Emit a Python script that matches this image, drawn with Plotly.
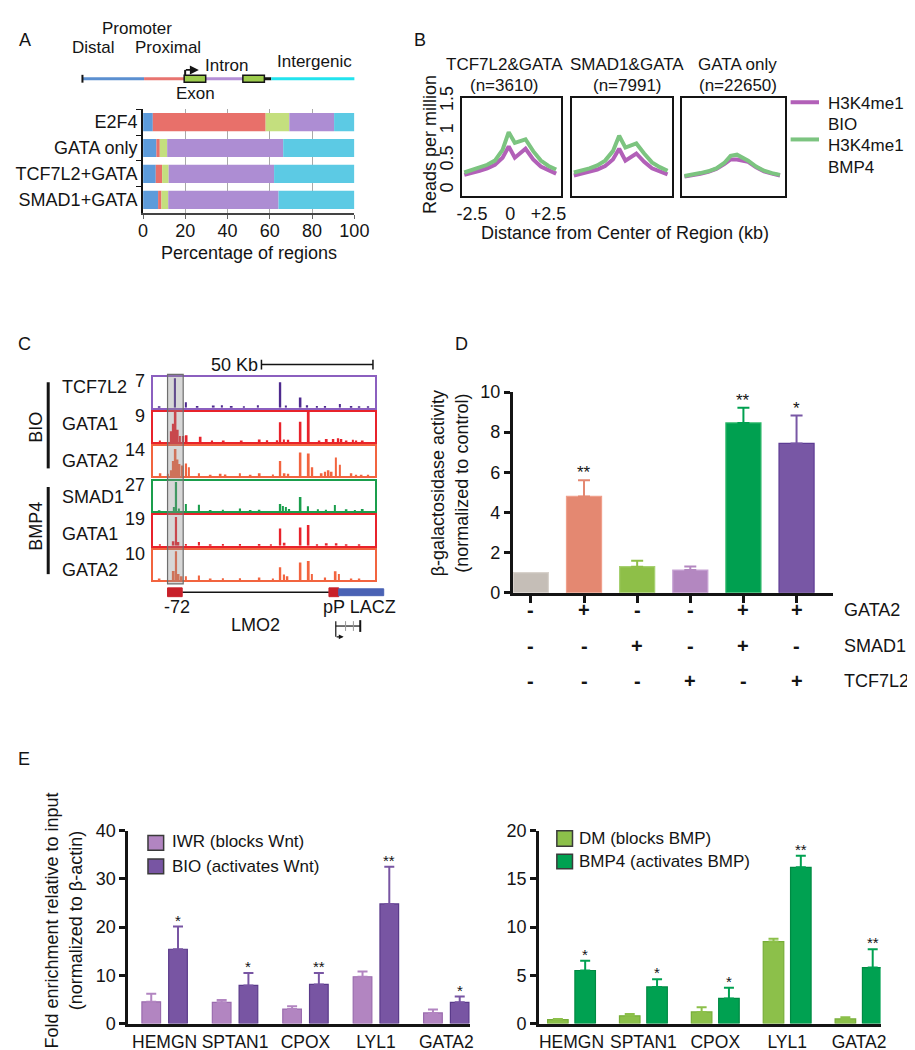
import plotly.graph_objects as go
import numpy as np

W, H = 915, 1050
FONT = "Arial, Liberation Sans, sans-serif"
INK = "#141414"


def X(p):
    return p / W


def Y(p):
    return 1 - p / H


# ================= DATA =================
# Panel A: percentage of regions per genomic category
a_rows = ["E2F4", "GATA only", "TCF7L2+GATA", "SMAD1+GATA"]
a_segments = ["Distal", "Proximal", "Exon", "Intron", "Intergenic"]
a_distal = [4.6, 6.3, 6.0, 7.1]
a_proximal = [53.4, 1.6, 3.0, 1.6]
a_exon = [11.2, 3.5, 3.1, 3.2]
a_intron = [21.2, 54.9, 49.9, 52.2]
a_intergenic = [9.6, 33.7, 38.0, 35.9]
a_ticks = [0, 20, 40, 60, 80, 100]

# Panel B: H3K4me1 profiles (reads per million vs distance, kb)
b_titles = ["TCF7L2&GATA", "SMAD1&GATA", "GATA only"]
b_counts = ["(n=3610)", "(n=7991)", "(n=22650)"]
b_dist = [-3.0, -2.5, -2.0, -1.5, -1.0, -0.5, -0.1, 0.3, 1.0, 1.5, 2.0, 2.5, 3.0]
b_bio_tcf = [0.26, 0.29, 0.33, 0.37, 0.43, 0.55, 0.74, 0.55, 0.70, 0.52, 0.40, 0.34, 0.28]
b_bmp_tcf = [0.30, 0.34, 0.38, 0.43, 0.50, 0.68, 0.98, 0.80, 0.86, 0.66, 0.50, 0.41, 0.35]
b_bio_smad = [0.25, 0.28, 0.31, 0.35, 0.41, 0.52, 0.70, 0.50, 0.62, 0.48, 0.37, 0.32, 0.27]
b_bmp_smad = [0.30, 0.33, 0.37, 0.42, 0.50, 0.66, 0.92, 0.72, 0.79, 0.62, 0.47, 0.39, 0.33]
b_bio_gata = [0.23, 0.25, 0.28, 0.31, 0.36, 0.44, 0.52, 0.52, 0.48, 0.39, 0.32, 0.28, 0.25]
b_bmp_gata = [0.24, 0.26, 0.29, 0.32, 0.37, 0.46, 0.58, 0.60, 0.50, 0.40, 0.33, 0.29, 0.26]
b_yticks = [0, 0.5, 1, 1.5]
b_xticks = [-2.5, 0, 2.5]
b_xticktext = ["-2.5", "0", "+2.5"]

# Panel C: ChIP-seq tracks at LMO2 locus (position kb, fraction of track scale)
c_tracks = ["TCF7L2", "GATA1", "GATA2", "SMAD1", "GATA1", "GATA2"]
c_scales = ["7", "9", "14", "27", "19", "10"]
c_pos_tcf = [3.0, 10.0, 14.9, 20.1, 27.4, 31.1, 35.5, 41.0, 47.3, 57.4, 59.9, 66.5, 69.5, 73.9, 77.6, 84.2, 89.4, 93.0, 97.0]
c_h_tcf = [0.04, 0.97, 0.18, 0.06, 0.07, 0.08, 0.06, 0.05, 0.08, 0.84, 0.07, 0.34, 0.08, 0.06, 0.06, 0.12, 0.06, 0.05, 0.05]
c_pos_g1bio = [3.1, 8.3, 9.3, 10.2, 11.2, 12.2, 13.7, 15.2, 21.5, 26.7, 31.9, 40.0, 48.1, 51.5, 56.0, 57.4, 59.0, 61.0, 66.5, 70.2, 75.0, 78.3, 81.3, 83.5, 84.9, 87.2, 90.1, 91.6, 94.5]
c_h_g1bio = [0.05, 0.35, 0.6, 1.0, 0.4, 0.2, 0.2, 0.22, 0.17, 0.05, 0.05, 0.04, 0.08, 0.06, 0.06, 0.65, 0.08, 0.07, 0.67, 1.0, 0.04, 0.1, 0.1, 0.12, 0.1, 0.05, 0.07, 0.05, 0.05]
c_pos_g2bio = [3.4, 6.8, 8.3, 9.3, 10.2, 11.1, 12.0, 13.4, 15.0, 16.2, 20.8, 26.0, 30.5, 32.7, 39.2, 44.0, 48.1, 54.0, 57.4, 59.3, 61.0, 66.5, 70.2, 71.8, 76.0, 77.6, 79.1, 80.5, 82.4, 84.2, 89.4, 91.6, 94.0, 97.0]
c_h_g2bio = [0.1, 0.08, 0.2, 0.5, 0.9, 0.55, 0.4, 0.35, 0.42, 0.3, 0.1, 0.05, 0.08, 0.06, 0.1, 0.05, 0.1, 0.06, 0.5, 0.1, 0.08, 0.78, 0.75, 0.3, 0.1, 0.15, 0.2, 0.15, 0.62, 0.38, 0.1, 0.05, 0.05, 0.05]
c_pos_smad = [3.0, 9.5, 10.5, 11.7, 14.9, 20.8, 26.0, 31.5, 39.3, 44.0, 48.0, 57.4, 58.5, 59.9, 61.4, 66.5, 69.9, 74.3, 78.0, 82.0, 87.2, 91.0, 94.5]
c_h_smad = [0.04, 0.15, 0.97, 0.1, 0.25, 0.22, 0.05, 0.06, 0.1, 0.05, 0.06, 0.25, 0.18, 0.15, 0.08, 0.48, 0.17, 0.07, 0.06, 0.21, 0.07, 0.05, 0.08]
c_pos_g1bmp = [3.1, 9.3, 10.5, 11.5, 14.9, 20.8, 26.0, 31.5, 39.3, 48.0, 53.2, 57.4, 59.3, 66.5, 70.1, 74.0, 78.3, 82.7, 87.2, 93.0]
c_h_g1bmp = [0.05, 0.15, 0.95, 0.12, 0.06, 0.12, 0.05, 0.06, 0.06, 0.06, 0.05, 0.57, 0.1, 0.6, 0.68, 0.05, 0.08, 0.08, 0.05, 0.05]
c_pos_g2bmp = [3.0, 9.4, 10.5, 11.6, 13.0, 14.9, 20.8, 26.0, 31.5, 39.3, 48.0, 54.0, 57.4, 59.1, 60.6, 66.5, 70.2, 71.6, 77.6, 82.3, 83.8, 89.4, 93.0]
c_h_g2bmp = [0.05, 0.3, 0.95, 0.2, 0.12, 0.12, 0.15, 0.05, 0.06, 0.06, 0.08, 0.05, 0.42, 0.18, 0.12, 0.58, 0.63, 0.2, 0.08, 0.29, 0.2, 0.05, 0.05]

# Panel D: beta-galactosidase reporter activity
d_labels = ["Control", "GATA2", "SMAD1", "TCF7L2", "GATA2+SMAD1", "GATA2+TCF7L2"]
d_mean = [1.0, 4.8, 1.3, 1.13, 8.46, 7.44]
d_err = [0.0, 0.8, 0.3, 0.18, 0.76, 1.39]
d_sig = ["", "**", "", "", "**", "*"]
d_gata2 = ["-", "+", "-", "-", "+", "+"]
d_smad1 = ["-", "-", "+", "-", "+", "-"]
d_tcf7l2 = ["-", "-", "-", "+", "-", "+"]
d_yticks = [0, 2, 4, 6, 8, 10]

# Panel E: ChIP-qPCR fold enrichment
e_genes = ["HEMGN", "SPTAN1", "CPOX", "LYL1", "GATA2"]
e_iwr = [4.5, 4.4, 3.0, 9.7, 2.2]
e_iwr_err = [1.7, 0.5, 0.6, 1.1, 0.7]
e_bio = [15.4, 7.9, 8.1, 24.8, 4.4]
e_bio_err = [4.7, 2.6, 2.4, 7.7, 1.2]
e_bio_sig = ["*", "*", "**", "**", "*"]
e_dm = [0.41, 0.8, 1.2, 8.5, 0.48]
e_dm_err = [0.05, 0.19, 0.5, 0.3, 0.17]
e_bmp4 = [5.5, 3.8, 2.6, 16.2, 5.8]
e_bmp4_err = [1.0, 0.8, 1.1, 1.2, 1.9]
e_bmp4_sig = ["*", "*", "*", "**", "**"]

# ================= FIGURE =================
fig = go.Figure()
shapes, annots, lay = [], [], {}


def tf(size=18):
    return dict(family=FONT, size=size, color=INK)


def text(x, y, s, size=18, xanchor="center", yanchor="middle", angle=0, bold=False):
    annots.append(dict(x=X(x), y=Y(y), xref="paper", yref="paper", text=("<b>%s</b>" % s) if bold else s,
                       showarrow=False, font=tf(size), xanchor=xanchor, yanchor=yanchor, textangle=angle))


def line(x0, y0, x1, y1, color=INK, width=1.5):
    shapes.append(dict(type="line", xref="paper", yref="paper", x0=X(x0), y0=Y(y0), x1=X(x1), y1=Y(y1),
                       line=dict(color=color, width=width), layer="above"))


def rect(x0, y0, x1, y1, fill, color=None, width=1.0):
    shapes.append(dict(type="rect", xref="paper", yref="paper", x0=X(x0), y0=Y(y0), x1=X(x1), y1=Y(y1),
                       fillcolor=fill, line=dict(color=color or fill, width=width), layer="above"))


def arrow(x0, y0, x1, y1, width=1.8, size=1.0):
    annots.append(dict(x=X(x1), y=Y(y1), ax=x0 - x1, ay=y0 - y1, xref="paper", yref="paper",
                       axref="pixel", ayref="pixel", text="", showarrow=True, arrowhead=2, arrowsize=size,
                       arrowwidth=width, arrowcolor=INK))


# ---------------- Panel A ----------------
text(12, 20, "A")
a_colors = ["#5D9BDA", "#E8706A", "#C4DF7E", "#AD8DD3", "#5CCAE4"]
cum = np.zeros(len(a_rows))
for name, vals, col in zip(a_segments, [a_distal, a_proximal, a_exon, a_intron, a_intergenic], a_colors):
    fig.add_trace(go.Bar(y=a_rows, x=vals, base=list(cum), orientation="h", name=name, width=0.7,
                         marker=dict(color=col, line=dict(width=0)), xaxis="x", yaxis="y"))
    cum = cum + np.array(vals)
lay["xaxis"] = dict(domain=[X(133), X(349)], anchor="y", range=[0, 100], tickvals=a_ticks,
                    showgrid=True, gridcolor="#A9A9A9", gridwidth=1, zeroline=False,
                    showline=True, linecolor="#444", linewidth=1.5, ticks="outside", ticklen=4,
                    tickcolor="#666", tickfont=tf(18), ticklabelstandoff=-3)
lay["yaxis"] = dict(domain=[Y(197), Y(91)], anchor="x", type="category", categoryorder="array",
                    categoryarray=a_rows, range=[3.5, -0.5], showline=True, linecolor=INK, linewidth=2,
                    ticks="outside", ticklen=5, tickson="boundaries", tickcolor=INK, tickfont=tf(18),
                    showgrid=False)
text(241, 238, "Percentage of regions")
# gene-structure key
line(71, 60, 134, 60, "#5B8FD0", 3)
line(71, 56, 71, 64, INK, 2)
line(134, 60, 175, 60, "#E87470", 3)
line(197, 60, 235, 60, "#B48FD6", 3)
line(257, 60, 264, 60, INK, 3)
line(264, 60, 349, 60, "#22E3EE", 3)
rect(175, 56.5, 197, 63.5, "#9CCB4C", INK, 1.5)
rect(235, 56.5, 257, 63.5, "#9CCB4C", INK, 1.5)
line(176, 57, 176, 51, INK, 2)
arrow(175.5, 51, 190, 51)
text(127, 9, "Promoter", 17)
text(82, 28, "Distal", 17)
text(158, 28, "Proximal", 17)
text(218, 46, "Intron", 17)
text(308, 42, "Intergenic", 17)
text(187, 75, "Exon", 17)

# ---------------- Panel B ----------------
text(416, 20, "B")
PURPLE_B, GREEN_B = "#B260B8", "#7CC480"
b_boxes = [(459, 560), (571, 674), (684, 789)]
b_title_x = [502, 628, 741]
b_bio = [b_bio_tcf, b_bio_smad, b_bio_gata]
b_bmp = [b_bmp_tcf, b_bmp_smad, b_bmp_gata]
for i in range(3):
    k = str(i + 2)
    fig.add_trace(go.Scatter(x=b_dist, y=b_bio[i], mode="lines", name="H3K4me1 BIO",
                             line=dict(color=PURPLE_B, width=4), xaxis="x" + k, yaxis="y" + k))
    fig.add_trace(go.Scatter(x=b_dist, y=b_bmp[i], mode="lines", name="H3K4me1 BMP4",
                             line=dict(color=GREEN_B, width=4), xaxis="x" + k, yaxis="y" + k))
    lay["xaxis" + k] = dict(domain=[X(b_boxes[i][0]), X(b_boxes[i][1])], anchor="y" + k, range=[-3.15, 3.3],
                            showline=True, mirror=True, linecolor=INK, linewidth=1.5, showgrid=False,
                            zeroline=False, ticks="", ticklen=0, tickvals=b_xticks, ticktext=b_xticktext,
                            showticklabels=(i == 0), tickfont=tf(18), ticklabelstandoff=0)
    lay["yaxis" + k] = dict(domain=[Y(180), Y(80)], anchor="x" + k, range=[-0.1, 1.55],
                            showline=True, mirror=True, linecolor=INK, linewidth=1.5, showgrid=False,
                            zeroline=False, ticks="", tickvals=b_yticks,
                            ticktext=[("%g" % v) for v in b_yticks], tickangle=-90,
                            showticklabels=(i == 0), tickfont=tf(18))
    text(b_title_x[i], 45, b_titles[i], 17)
    text(b_title_x[i], 67, b_counts[i], 17)
text(427, 127, "Reads per million", 18, angle=-90)
text(626, 218, "Distance from Center of Region (kb)", 18)
line(795, 84, 824, 84, PURPLE_B, 4)
line(795, 122, 824, 122, GREEN_B, 4)
text(831, 85, "H3K4me1", 17, xanchor="left")
text(831, 107, "BIO", 17, xanchor="left")
text(831, 128, "H3K4me1", 17, xanchor="left")
text(831, 151, "BMP4", 17, xanchor="left")

# ---------------- Panel C ----------------
text(12, 331, "C")
c_pos = [c_pos_tcf, c_pos_g1bio, c_pos_g2bio, c_pos_smad, c_pos_g1bmp, c_pos_g2bmp]
c_h = [c_h_tcf, c_h_g1bio, c_h_g2bio, c_h_smad, c_h_g1bmp, c_h_g2bmp]
c_bar_col = ["#4E2A8E", "#E8232B", "#F2643F", "#1A9E4C", "#E8232B", "#F2643F"]
c_box_col = ["#8B5FBF", "#E8232B", "#F2643F", "#1A9E4C", "#E8232B", "#F2643F"]
c_tops = [365, 400, 435, 471, 506, 541]
c_label_y = [375, 413, 450, 487, 525, 562]
for i in range(6):
    k = str(i + 5)
    fig.add_trace(go.Bar(x=c_pos[i], y=c_h[i], width=0.8, name=c_tracks[i],
                         marker=dict(color=c_bar_col[i], line=dict(width=0)), xaxis="x" + k, yaxis="y" + k))
    common = dict(showline=True, mirror=True, linecolor=c_box_col[i], linewidth=1.6, showgrid=False,
                  zeroline=False, ticks="", showticklabels=False)
    lay["xaxis" + k] = dict(domain=[X(143), X(370)], anchor="y" + k, range=[0, 100], **common)
    lay["yaxis" + k] = dict(domain=[Y(c_tops[i] + 31), Y(c_tops[i])], anchor="x" + k, range=[0, 1.0], **common)
    text(137, c_tops[i] + 4, c_scales[i], 18, xanchor="right")
    text(48, c_label_y[i], c_tracks[i], 18, xanchor="left")
rect(158, 362, 174, 576, "rgba(140,140,140,0.35)", "#6E6E6E", 1.2)
line(36, 370, 36, 458, INK, 3)
line(36, 477, 36, 566, INK, 3)
text(24, 416, "BIO", 18, angle=-90)
text(24, 517, "BMP4", 18, angle=-90)
text(226, 352, "50 Kb", 18)
line(254, 352, 368, 352, INK, 1.5)
line(254, 347, 254, 357, INK, 1.5)
line(368, 347, 368, 357, INK, 1.5)
line(173, 584.5, 323, 584.5, INK, 1.5)
rect(158, 580, 173, 589, "#C8202A")
rect(323, 580, 333, 589, "#C8202A")
rect(333, 581, 379, 588, "#4A62B4")
text(168, 600, "-72", 18)
text(315, 600, "pP LACZ", 18, xanchor="left")
text(248, 618, "LMO2", 18)
line(330, 619, 355, 619, INK, 1.2)
line(340, 614, 340, 624, "#999", 1)
line(348, 614, 348, 624, "#999", 1)
line(355, 613, 355, 625, INK, 2)
line(330, 614, 330, 630, INK, 1.2)
arrow(329.5, 630, 338, 630, 1.2, 0.8)

# ---------------- Panel D ----------------
text(459, 331, "D")
d_colors = ["#C5BEB7", "#E48871", "#8EBF48", "#B387C0", "#00A050", "#7857A5"]
d_edge = ["#D8D2CC", "#F0A08C", "#A6D070", "#C8A2D4", "#2DB86A", "#5E3C94"]
for i in range(len(d_labels)):
    fig.add_trace(go.Bar(x=[d_labels[i]], y=[d_mean[i]], width=0.66, name=d_labels[i],
                         marker=dict(color=d_colors[i], line=dict(color=d_edge[i], width=1.2)),
                         error_y=dict(type="data", array=[d_err[i]], arrayminus=[0], symmetric=False,
                                      color=d_colors[i], thickness=2, width=6, visible=d_err[i] > 0),
                         xaxis="x11", yaxis="y11"))
    if d_sig[i]:
        annots.append(dict(x=d_labels[i], y=d_mean[i] + d_err[i], xref="x11", yref="y11", text=d_sig[i],
                           showarrow=False, font=tf(17), yanchor="bottom", yshift=-4))
    for row, yy in zip([d_gata2, d_smad1, d_tcf7l2], [603, 639, 675]):
        annots.append(dict(x=d_labels[i], y=Y(yy), xref="x11", yref="paper", text="<b>%s</b>" % row[i],
                           showarrow=False, font=tf(20), yanchor="middle"))
lay["xaxis11"] = dict(domain=[X(511), X(838)], anchor="y11", type="category", categoryorder="array",
                      categoryarray=d_labels, range=[-0.34, 5.68], showline=True, linecolor=INK, linewidth=3,
                      ticks="outside", ticklen=7, tickwidth=2.5, tickcolor=INK, showticklabels=False,
                      showgrid=False, zeroline=False)
lay["yaxis11"] = dict(domain=[Y(585), Y(380)], anchor="x11", range=[0, 10], tickvals=d_yticks,
                      showline=True, linecolor=INK, linewidth=3, ticks="outside", ticklen=6, tickwidth=2.5,
                      tickcolor=INK, tickfont=tf(18), showgrid=False, zeroline=False)
text(446, 473, "β-galactosidase activity<br>(normalized to control)", 18, angle=-90)
text(848, 603, "GATA2", 18, xanchor="left")
text(848, 639, "SMAD1", 18, xanchor="left")
text(848, 675, "TCF7L2", 18, xanchor="left")

# ---------------- Panel E ----------------
text(11, 755, "E")
text(52, 920, "Fold enrichment relative to input<br>(normalized to β-actin)", 18, angle=-90)
e_sets = [
    ("x12", "y12", e_iwr, e_iwr_err, None, "IWR (blocks Wnt)", "#B285C1", "#9A6BAE", -0.19, 0.265),
    ("x12", "y12", e_bio, e_bio_err, e_bio_sig, "BIO (activates Wnt)", "#7855A3", "#5A3A8A", 0.19, 0.265),
    ("x13", "y13", e_dm, e_dm_err, None, "DM (blocks BMP)", "#8CC04A", "#77AD38", -0.19, 0.286),
    ("x13", "y13", e_bmp4, e_bmp4_err, e_bmp4_sig, "BMP4 (activates BMP)", "#00A151", "#008A43", 0.19, 0.286),
]
for xa, ya, vals, errs, sig, name, col, edge, off, wid in e_sets:
    fig.add_trace(go.Bar(x=e_genes, y=vals, name=name, offset=off - wid / 2, width=wid,
                         marker=dict(color=col, line=dict(color=edge, width=1.2)),
                         error_y=dict(type="data", array=errs, arrayminus=[0] * len(errs), symmetric=False,
                                      color=col, thickness=2, width=5),
                         xaxis=xa, yaxis=ya))
    if sig:
        for j, s in enumerate(sig):
            annots.append(dict(x=j + off, y=vals[j] + errs[j], xref=xa, yref=ya, text=s, showarrow=False,
                               font=tf(15), yanchor="bottom", yshift=-4))
for k, dom, rng, ymax, dt in [("12", (118, 467), [-0.514, 4.333], 40, 10), ("13", (538, 887), [-0.449, 4.30], 20, 5)]:
    lay["xaxis" + k] = dict(domain=[X(dom[0]), X(dom[1])], anchor="y" + k, type="category",
                            categoryorder="array", categoryarray=e_genes, range=rng, showline=True,
                            linecolor=INK, linewidth=3, ticks="", ticklen=0, tickangle=0, ticklabelstandoff=0,
                            tickfont=tf(17.5), showgrid=False, zeroline=False)
    lay["yaxis" + k] = dict(domain=[Y(1025), Y(828)], anchor="x" + k, range=[0, ymax], dtick=dt,
                            showline=True, linecolor=INK, linewidth=3, ticks="outside", ticklen=6,
                            tickwidth=2.5, tickcolor=INK, tickfont=tf(18), showgrid=False, zeroline=False)
# manual legends
rect(138, 833, 154, 848, "#B285C1", "#3A3A3A", 1.5)
rect(138, 857, 154, 872, "#7855A3", "#3A3A3A", 1.5)
text(160, 839, "IWR (blocks Wnt)", 17, xanchor="left")
text(160, 865, "BIO (activates Wnt)", 17, xanchor="left")
rect(556, 828, 572, 844, "#8CC04A", "#3A3A3A", 1.5)
rect(556, 852, 572, 867, "#00A151", "#3A3A3A", 1.5)
text(577, 836, "DM (blocks BMP)", 17, xanchor="left")
text(577, 860, "BMP4 (activates BMP)", 17, xanchor="left")

fig.update_layout(
    width=W, height=H, margin=dict(l=0, r=0, t=0, b=0, pad=0),
    paper_bgcolor="white", plot_bgcolor="rgba(0,0,0,0)",
    showlegend=False, barmode="overlay", font=tf(18),
    shapes=shapes, annotations=annots, **lay,
)
fig.write_html("out.html")
